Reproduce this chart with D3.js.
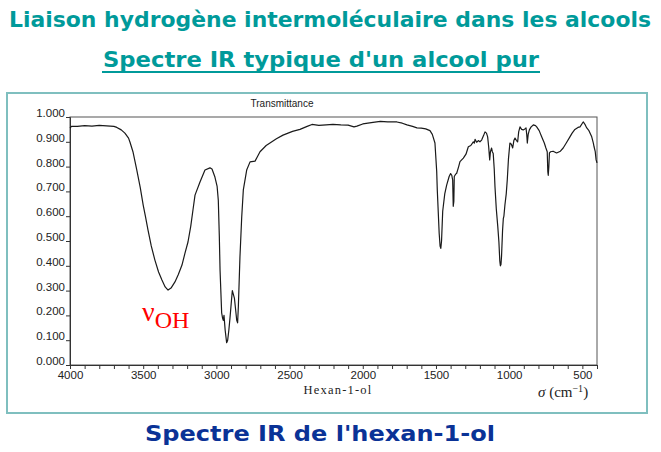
<!DOCTYPE html>
<html>
<head>
<meta charset="utf-8">
<script src="https://cdn.jsdelivr.net/npm/d3@7"></script>
<style>
  html, body { margin: 0; padding: 0; background: #fff; }
  svg { display: block; }
</style>
</head>
<body>
<svg id="chart" width="661" height="452"></svg>
<script>
// ---- Data ----
const wavenumbers = [4000,3990,3950,3900,3850,3800,3750,3700,3680,3650,3625,3600,3590,3570,3545,3520,3500,3485,3467,3445,3420,3395,3372,3350,3330,3310,3283,3260,3235,3215,3194,3175,3160,3146,3112,3078,3044,3030,3010,2995,2987,2980,2975,2964,2958,2953,2948,2940,2930,2923,2915,2907,2897,2891,2884,2877,2868,2861,2855,2850,2839,2827,2816,2793,2770,2736,2720,2702,2660,2634,2590,2545,2480,2429,2380,2347,2300,2250,2204,2150,2100,2060,2040,2000,1930,1880,1830,1767,1730,1698,1660,1630,1600,1570,1541,1525,1507,1495,1491,1478,1472,1467,1462,1454,1450,1440,1427,1410,1400,1392,1386,1382,1378,1375,1365,1359,1345,1336,1313,1295,1279,1262,1245,1238,1233,1222,1211,1200,1188,1175,1165,1155,1147,1140,1133,1128,1120,1115,1109,1102,1097,1088,1078,1070,1064,1060,1056,1052,1045,1040,1036,1029,1020,1013,1005,995,985,976,968,960,950,942,935,926,915,904,893,885,880,876,870,862,850,835,820,812,795,778,760,749,740,736,733,729,725,717,700,676,650,631,610,585,570,551,530,516,500,493,480,470,455,436,425,420,412,406,400];
const transmittance = [0.955,0.962,0.962,0.965,0.963,0.966,0.964,0.962,0.958,0.948,0.935,0.915,0.898,0.860,0.790,0.715,0.645,0.600,0.544,0.480,0.423,0.375,0.343,0.315,0.302,0.310,0.335,0.365,0.403,0.450,0.496,0.560,0.625,0.685,0.738,0.786,0.795,0.790,0.758,0.720,0.665,0.520,0.383,0.210,0.190,0.180,0.200,0.140,0.090,0.100,0.140,0.190,0.260,0.300,0.285,0.270,0.220,0.180,0.170,0.235,0.436,0.597,0.706,0.786,0.819,0.822,0.840,0.860,0.885,0.895,0.912,0.927,0.942,0.950,0.962,0.970,0.966,0.968,0.970,0.968,0.967,0.960,0.963,0.972,0.978,0.982,0.980,0.980,0.975,0.968,0.962,0.956,0.955,0.952,0.945,0.930,0.895,0.780,0.706,0.530,0.480,0.470,0.500,0.620,0.640,0.690,0.725,0.760,0.772,0.765,0.746,0.640,0.660,0.760,0.770,0.772,0.800,0.820,0.834,0.850,0.880,0.885,0.900,0.895,0.910,0.898,0.905,0.900,0.907,0.925,0.940,0.935,0.920,0.880,0.827,0.860,0.875,0.860,0.853,0.790,0.720,0.630,0.560,0.495,0.420,0.400,0.405,0.440,0.544,0.590,0.600,0.645,0.690,0.746,0.830,0.895,0.890,0.875,0.905,0.915,0.905,0.900,0.940,0.960,0.950,0.948,0.952,0.956,0.930,0.895,0.930,0.948,0.960,0.968,0.965,0.960,0.945,0.920,0.895,0.875,0.860,0.780,0.765,0.800,0.855,0.860,0.862,0.855,0.862,0.875,0.895,0.920,0.935,0.950,0.958,0.960,0.975,0.980,0.968,0.956,0.945,0.920,0.895,0.880,0.860,0.827,0.815];

const xTickValues = [4000,3900,3800,3700,3600,3500,3400,3300,3200,3100,3000,2900,2800,2700,2600,2500,2400,2300,2200,2100,2000,1900,1800,1700,1600,1500,1400,1300,1200,1100,1000,900,800,700,600,500,400];
const xTickLabels = ["4000","3500","3000","2500","2000","1500","1000","500"];
const yTickValues = [0,0.1,0.2,0.3,0.4,0.5,0.6,0.7,0.8,0.9,1.0];

const titleMain = "Liaison hydrogène intermoléculaire dans les alcools";
const titleSub = "Spectre IR typique d'un alcool pur";
const caption = "Spectre IR de l'hexan-1-ol";
const yAxisTitle = "Transmittance";
const sampleName = "Hexan-1-ol";

// ---- Layout ----
const svg = d3.select("#chart");
const plot = { left: 70, right: 597, top: 117, bottom: 365 };
const x = d3.scaleLinear().domain([4000, 400]).range([plot.left, plot.right]);
const y = d3.scaleLinear().domain([0, 1]).range([plot.bottom, plot.top]);

const teal = "#009a9a";
const titleFont = "'DejaVu Sans', Verdana, sans-serif";

// titles
svg.append("text")
  .attr("x", 330).attr("y", 27)
  .attr("text-anchor", "middle")
  .attr("font-family", titleFont).attr("font-size", 21).attr("font-weight", "bold")
  .attr("fill", teal)
  .attr("textLength", 642).attr("lengthAdjust", "spacingAndGlyphs")
  .text(titleMain);

svg.append("text")
  .attr("x", 321).attr("y", 67)
  .attr("text-anchor", "middle")
  .attr("font-family", titleFont).attr("font-size", 21).attr("font-weight", "bold")
  .attr("fill", teal)
  .attr("textLength", 436).attr("lengthAdjust", "spacingAndGlyphs")
  .text(titleSub);
svg.append("line")
  .attr("x1", 102).attr("x2", 540).attr("y1", 72).attr("y2", 72)
  .attr("stroke", teal).attr("stroke-width", 2);

// frame
svg.append("rect")
  .attr("x", 7).attr("y", 93).attr("width", 640).attr("height", 320)
  .attr("fill", "none").attr("stroke", "#7fbfbf").attr("stroke-width", 2);

// caption
svg.append("text")
  .attr("x", 320).attr("y", 441)
  .attr("text-anchor", "middle")
  .attr("font-family", titleFont).attr("font-size", 21).attr("font-weight", "bold")
  .attr("fill", "#0a3296")
  .attr("textLength", 350).attr("lengthAdjust", "spacingAndGlyphs")
  .text(caption);

// plot frame
svg.append("rect")
  .attr("x", plot.left).attr("y", plot.top)
  .attr("width", plot.right - plot.left).attr("height", plot.bottom - plot.top)
  .attr("fill", "none").attr("stroke", "#555").attr("stroke-width", 1);

// axes
const xAxis = d3.axisBottom(x)
  .tickValues(xTickValues)
  .tickSize(4)
  .tickFormat(d => xTickLabels.includes(String(d)) ? String(d) : "");
const gx = svg.append("g").attr("transform", `translate(0,${plot.bottom})`).call(xAxis);
gx.select(".domain").attr("stroke", "#333");
gx.selectAll(".tick line").attr("stroke", "#333");
gx.selectAll(".tick text")
  .attr("font-family", "'Liberation Sans', Arial, sans-serif")
  .attr("font-size", 11.5).attr("fill", "#222").attr("y", 6);

const yAxis = d3.axisLeft(y)
  .tickValues(yTickValues)
  .tickSize(4)
  .tickFormat(d3.format(".3f"));
const gy = svg.append("g").attr("transform", `translate(${plot.left},0)`).call(yAxis);
gy.select(".domain").attr("stroke", "#333");
gy.selectAll(".tick line").attr("stroke", "#333");
gy.selectAll(".tick text")
  .attr("font-family", "'Liberation Sans', Arial, sans-serif")
  .attr("font-size", 11.5).attr("fill", "#222")
  .attr("x", -5).attr("dy", "-0.05em");

// axis titles
svg.append("text")
  .attr("x", 282).attr("y", 107)
  .attr("text-anchor", "middle")
  .attr("font-family", "'Liberation Sans', Arial, sans-serif").attr("font-size", 10).attr("fill", "#222")
  .text(yAxisTitle);

svg.append("text")
  .attr("x", 338).attr("y", 394)
  .attr("text-anchor", "middle")
  .attr("font-family", "'Liberation Serif', 'Times New Roman', serif").attr("font-size", 12.5).attr("fill", "#222")
  .attr("letter-spacing", 1.2)
  .text(sampleName);

const sig = svg.append("text")
  .attr("x", 538).attr("y", 397)
  .attr("font-family", "'Liberation Serif', 'Times New Roman', serif").attr("font-size", 15).attr("fill", "#222");
sig.append("tspan").attr("font-style", "italic").text("σ");
sig.append("tspan").text(" (cm");
sig.append("tspan").attr("dy", -5).attr("font-size", 10).text("−1");
sig.append("tspan").attr("dy", 5).text(")");

// spectrum
const data = wavenumbers.map((w, i) => ({ w, t: transmittance[i] }));
const line = d3.line().x(d => x(d.w)).y(d => y(d.t));
svg.append("path")
  .datum(data)
  .attr("d", line)
  .attr("fill", "none")
  .attr("stroke", "#1a1a1a")
  .attr("stroke-width", 1.2)
  .attr("stroke-linejoin", "round");

// annotation nu_OH
const nu = svg.append("text")
  .attr("x", 142).attr("y", 321)
  .attr("font-family", "'Liberation Serif', 'Times New Roman', serif")
  .attr("fill", "#ff0000");
nu.append("tspan").attr("font-size", 28).text("ν");
nu.append("tspan").attr("font-size", 24).attr("dy", 7).text("OH");
</script>
</body>
</html>
